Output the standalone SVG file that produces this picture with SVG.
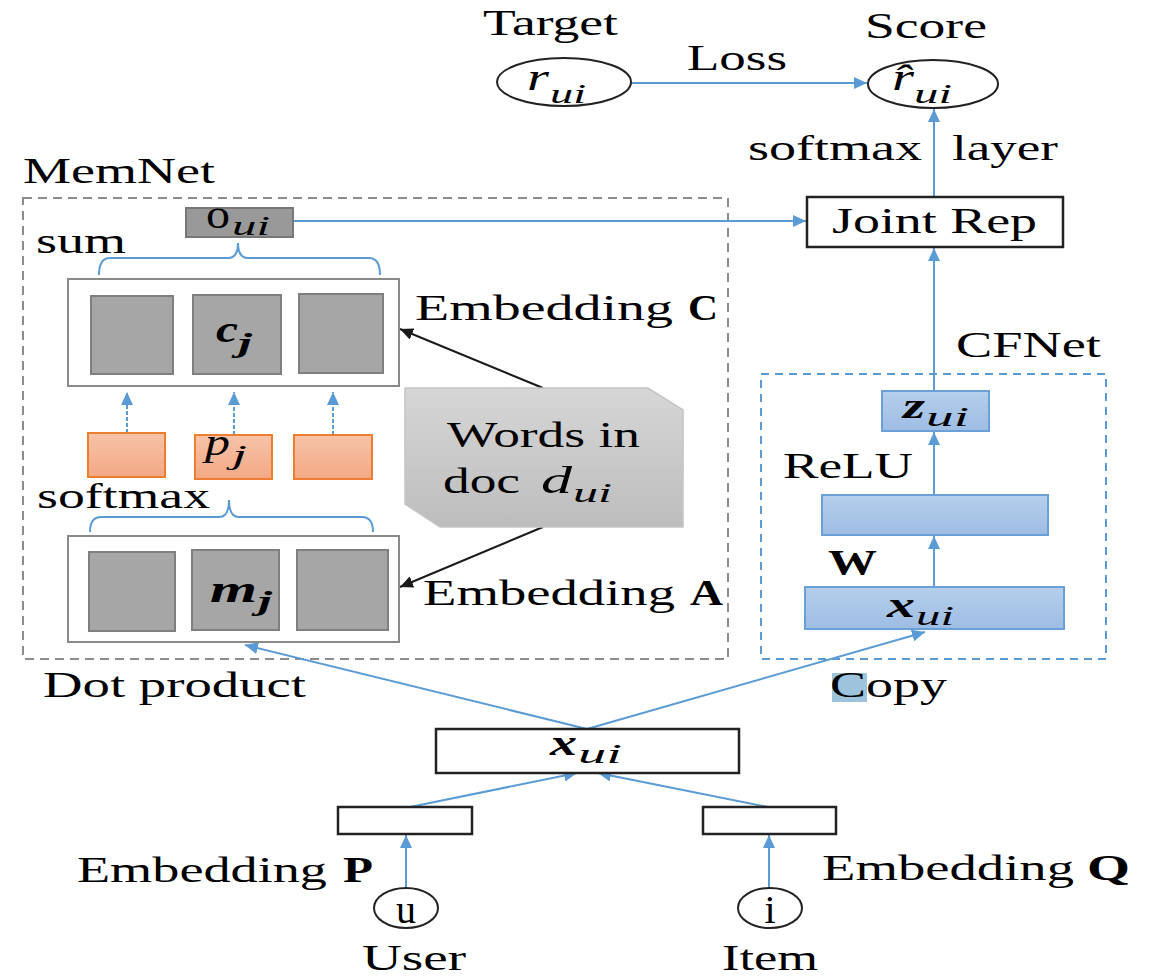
<svg xmlns="http://www.w3.org/2000/svg" width="1155" height="976" viewBox="0 0 1155 976">
<style>
.t{font-family:"Liberation Serif","Times New Roman",serif;font-size:35px;fill:#000}
.b{font-weight:bold}
.mi{font-family:"Liberation Serif","Times New Roman",serif;font-style:italic;fill:#000}
.mb{font-family:"Liberation Serif","Times New Roman",serif;font-style:italic;font-weight:bold;fill:#000}
.con{stroke:#5b9bd5;stroke-width:2;fill:none}
.blk{stroke:#1a1a1a;stroke-width:2;fill:none}
.box{fill:#fff;stroke:#222;stroke-width:2.5}
.gsq{fill:#a6a6a6;stroke:#7f7f7f;stroke-width:2}
.cont{fill:#fff;stroke:#8a8a8a;stroke-width:2}
.org{fill:url(#og);stroke:#ed7d31;stroke-width:2}
.blu{fill:url(#bg);stroke:#6a9fd8;stroke-width:2}
.ell{fill:#fff;stroke:#222;stroke-width:2}
</style>
<defs>
<linearGradient id="og" x1="0" y1="0" x2="0" y2="1"><stop offset="0" stop-color="#f7c3a8"/><stop offset="1" stop-color="#f3a884"/></linearGradient>
<linearGradient id="bg" x1="0" y1="0" x2="0" y2="1"><stop offset="0" stop-color="#b5cfec"/><stop offset="1" stop-color="#9ebde4"/></linearGradient>
<linearGradient id="wg" x1="0" y1="0" x2="0" y2="1"><stop offset="0" stop-color="#d6d6d6"/><stop offset="1" stop-color="#bdbdbd"/></linearGradient>
<marker id="ab" markerUnits="userSpaceOnUse" markerWidth="14" markerHeight="12" refX="13" refY="6" orient="auto"><path d="M0,0 L13,6 L0,12 z" fill="#5b9bd5"/></marker>
<marker id="ak" markerUnits="userSpaceOnUse" markerWidth="14" markerHeight="12" refX="13" refY="6" orient="auto"><path d="M0,0 L13,6 L0,12 z" fill="#1a1a1a"/></marker>
</defs>
<rect width="1155" height="976" fill="#fff"/>

<g id="memnet-frame">
<rect x="23" y="198" width="705" height="461" fill="none" stroke="#8c8c8c" stroke-width="2" stroke-dasharray="9,6"/>
<text class="t" x="23" y="183" textLength="192" lengthAdjust="spacingAndGlyphs">MemNet</text>
</g>
<g id="cfnet-frame">
<rect x="761" y="374" width="345" height="285" fill="none" stroke="#5b9bd5" stroke-width="2" stroke-dasharray="8,6"/>
<text class="t" x="956" y="357" textLength="145" lengthAdjust="spacingAndGlyphs">CFNet</text>
</g>

<g id="connectors">
<line class="con" x1="631" y1="83" x2="867" y2="83" marker-end="url(#ab)"/>
<line class="con" x1="934" y1="197" x2="934" y2="109" marker-end="url(#ab)"/>
<line class="con" x1="293" y1="221" x2="806" y2="221" marker-end="url(#ab)"/>
<line class="con" x1="934" y1="391" x2="934" y2="248" marker-end="url(#ab)"/>
<line class="con" x1="934" y1="495" x2="934" y2="432" marker-end="url(#ab)"/>
<line class="con" x1="934" y1="587" x2="934" y2="536" marker-end="url(#ab)"/>
<line class="blk" x1="543" y1="388" x2="400" y2="329" marker-end="url(#ak)"/>
<line class="blk" x1="543" y1="527" x2="400" y2="587" marker-end="url(#ak)"/>
<line class="con" x1="127" y1="433" x2="127" y2="392" stroke-dasharray="4,2" marker-end="url(#ab)"/>
<line class="con" x1="234" y1="435" x2="234" y2="392" stroke-dasharray="4,2" marker-end="url(#ab)"/>
<line class="con" x1="333" y1="435" x2="333" y2="392" stroke-dasharray="4,2" marker-end="url(#ab)"/>
<line class="con" x1="587" y1="729" x2="245" y2="645" marker-end="url(#ab)"/>
<line class="con" x1="587" y1="729" x2="925" y2="632" marker-end="url(#ab)"/>
<line class="con" x1="410" y1="807" x2="577" y2="773" marker-end="url(#ab)"/>
<line class="con" x1="768" y1="807" x2="598" y2="773" marker-end="url(#ab)"/>
<line class="con" x1="406" y1="888" x2="406" y2="835" marker-end="url(#ab)"/>
<line class="con" x1="769" y1="889" x2="769" y2="835" marker-end="url(#ab)"/>
<path class="con" d="M99,275 Q99,258 110,258 L228,258 Q238,258 238,243 Q238,258 248,258 L369,258 Q380,258 380,275"/>
<path class="con" d="M90,532 Q90,517 101,517 L219,517 Q229,517 229,500 Q229,517 239,517 L362,517 Q373,517 373,532"/>
</g>

<g id="target">
<text class="t" x="483" y="35" textLength="135" lengthAdjust="spacingAndGlyphs">Target</text>
<ellipse class="ell" cx="564" cy="82" rx="67" ry="24"/>
<text class="mi" x="527" y="90" font-size="38" textLength="22" lengthAdjust="spacingAndGlyphs">r</text>
<text class="mi" x="550" y="103" font-size="28" textLength="36" lengthAdjust="spacingAndGlyphs">ui</text>
</g>
<g id="loss-label"><text class="t" x="687" y="70" textLength="100" lengthAdjust="spacingAndGlyphs">Loss</text></g>
<g id="score">
<text class="t" x="865" y="38" textLength="122" lengthAdjust="spacingAndGlyphs">Score</text>
<ellipse class="ell" cx="933" cy="84" rx="65" ry="24"/>
<text class="mi" x="892" y="90" font-size="38" textLength="22" lengthAdjust="spacingAndGlyphs">r̂</text>
<text class="mi" x="914" y="103" font-size="28" textLength="38" lengthAdjust="spacingAndGlyphs">ui</text>
</g>
<g id="softmax-layer">
<text class="t" x="748" y="160" textLength="174" lengthAdjust="spacingAndGlyphs">softmax</text>
<text class="t" x="952" y="160" textLength="106" lengthAdjust="spacingAndGlyphs">layer</text>
</g>
<g id="joint-rep">
<rect class="box" x="807" y="197" width="256" height="50"/>
<text class="t" x="832" y="233" textLength="205" lengthAdjust="spacingAndGlyphs">Joint Rep</text>
</g>

<g id="o-ui">
<rect x="186" y="208" width="107" height="29" fill="#999" stroke="#777" stroke-width="2"/>
<text class="t" x="206" y="228" style="font-size:40px" textLength="24" lengthAdjust="spacingAndGlyphs">o</text>
<text class="mi" x="232" y="235" font-size="27" textLength="38" lengthAdjust="spacingAndGlyphs">ui</text>
</g>
<g id="sum-label"><text class="t" x="36" y="253" textLength="90" lengthAdjust="spacingAndGlyphs">sum</text></g>

<g id="embedding-c">
<rect class="cont" x="68" y="279" width="331" height="107"/>
<rect class="gsq" x="91" y="296" width="82" height="78"/>
<rect class="gsq" x="193" y="295" width="88" height="79"/>
<rect class="gsq" x="299" y="294" width="84" height="79"/>
<text class="mb" x="216" y="342" font-size="38" textLength="22" lengthAdjust="spacingAndGlyphs">c</text>
<text class="mb" x="238" y="352" font-size="27" textLength="14" lengthAdjust="spacingAndGlyphs">j</text>
<text class="t" x="415" y="320" textLength="258" lengthAdjust="spacingAndGlyphs">Embedding</text>
<text class="t b" x="688" y="320" textLength="30" lengthAdjust="spacingAndGlyphs">C</text>
</g>

<g id="p-vectors">
<rect class="org" x="88" y="433" width="77" height="44"/>
<rect class="org" x="195" y="435" width="77" height="44"/>
<rect class="org" x="294" y="435" width="78" height="44"/>
<text class="mi" x="205" y="455" font-size="38" textLength="25" lengthAdjust="spacingAndGlyphs">p</text>
<text class="mi" x="232" y="464" font-size="28" textLength="15" lengthAdjust="spacingAndGlyphs">j</text>
</g>

<g id="words-doc">
<path d="M405,388 L648,388 L683,410 L683,527 L440,527 L405,504 Z" fill="url(#wg)" stroke="#c4c4c4" stroke-width="1.5"/>
<text class="t" x="447" y="447" textLength="193" lengthAdjust="spacingAndGlyphs">Words in</text>
<text class="t" x="443" y="493" textLength="77" lengthAdjust="spacingAndGlyphs">doc</text>
<text class="mi" x="541" y="493" font-size="38" textLength="31" lengthAdjust="spacingAndGlyphs">d</text>
<text class="mi" x="573" y="502" font-size="28" textLength="39" lengthAdjust="spacingAndGlyphs">ui</text>
</g>

<g id="softmax-label"><text class="t" x="37" y="508" textLength="173" lengthAdjust="spacingAndGlyphs">softmax</text></g>

<g id="embedding-a">
<rect class="cont" x="68" y="536" width="331" height="106"/>
<rect class="gsq" x="89" y="552" width="86" height="79"/>
<rect class="gsq" x="192" y="550" width="87" height="80"/>
<rect class="gsq" x="297" y="550" width="91" height="80"/>
<text class="mb" x="210" y="602" font-size="38" textLength="47" lengthAdjust="spacingAndGlyphs">m</text>
<text class="mb" x="258" y="610" font-size="27" textLength="14" lengthAdjust="spacingAndGlyphs">j</text>
<text class="t" x="423" y="605" textLength="252" lengthAdjust="spacingAndGlyphs">Embedding</text>
<text class="t b" x="690" y="605" textLength="33" lengthAdjust="spacingAndGlyphs">A</text>
</g>

<g id="dot-product-label"><text class="t" x="43" y="697" textLength="263" lengthAdjust="spacingAndGlyphs">Dot product</text></g>

<g id="z-ui">
<rect class="blu" x="882" y="391" width="107" height="40"/>
<text class="mb" x="903" y="418" font-size="36" textLength="22" lengthAdjust="spacingAndGlyphs">z</text>
<text class="mi" x="926" y="426" font-size="28" textLength="43" lengthAdjust="spacingAndGlyphs">ui</text>
</g>
<g id="relu-label"><text class="t" x="783" y="478" textLength="130" lengthAdjust="spacingAndGlyphs">ReLU</text></g>
<g id="hidden-layer"><rect class="blu" x="822" y="495" width="226" height="40"/></g>
<g id="w-label"><text class="t b" x="828" y="575" textLength="49" lengthAdjust="spacingAndGlyphs">W</text></g>
<g id="x-ui-cf">
<rect class="blu" x="805" y="587" width="259" height="42"/>
<text class="mb" x="887" y="617" font-size="36" textLength="28" lengthAdjust="spacingAndGlyphs">x</text>
<text class="mi" x="916" y="625" font-size="28" textLength="38" lengthAdjust="spacingAndGlyphs">ui</text>
</g>
<g id="copy-label">
<rect x="832" y="673" width="35" height="29" fill="#9ec3dc"/>
<text class="t" x="830" y="697" textLength="117" lengthAdjust="spacingAndGlyphs">Copy</text>
</g>

<g id="x-ui">
<rect class="box" x="436" y="729" width="303" height="44"/>
<text class="mb" x="550" y="755" font-size="36" textLength="27" lengthAdjust="spacingAndGlyphs">x</text>
<text class="mi" x="578" y="763" font-size="28" textLength="44" lengthAdjust="spacingAndGlyphs">ui</text>
</g>

<g id="embedding-p">
<rect class="box" x="338" y="807" width="134" height="27"/>
<text class="t" x="77" y="882" textLength="250" lengthAdjust="spacingAndGlyphs">Embedding</text>
<text class="t b" x="343" y="882" textLength="30" lengthAdjust="spacingAndGlyphs">P</text>
</g>
<g id="embedding-q">
<rect class="box" x="703" y="807" width="133" height="27"/>
<text class="t" x="822" y="880" textLength="252" lengthAdjust="spacingAndGlyphs">Embedding</text>
<text class="t b" x="1087" y="880" textLength="43" lengthAdjust="spacingAndGlyphs">Q</text>
</g>

<g id="user">
<ellipse class="ell" cx="406" cy="908" rx="32" ry="20"/>
<text class="t" x="406" y="923" style="font-size:40px" text-anchor="middle">u</text>
<text class="t" x="362" y="970" textLength="104" lengthAdjust="spacingAndGlyphs">User</text>
</g>
<g id="item">
<ellipse class="ell" cx="770" cy="908" rx="32" ry="20"/>
<text class="t" x="770" y="923" style="font-size:40px" text-anchor="middle">i</text>
<text class="t" x="722" y="970" textLength="96" lengthAdjust="spacingAndGlyphs">Item</text>
</g>
</svg>
